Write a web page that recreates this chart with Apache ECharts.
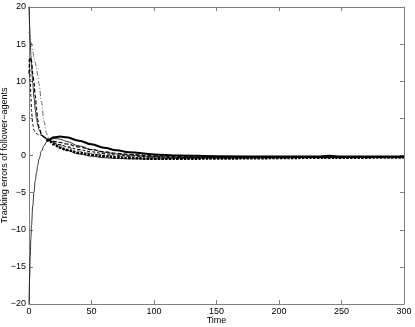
<!DOCTYPE html>
<html>
<head>
<meta charset="utf-8">
<script src="https://cdn.jsdelivr.net/npm/echarts@6/dist/echarts.min.js"></script>
<style>
  html, body { margin: 0; padding: 0; background: #fff; }
  #chart { width: 415px; height: 327px; }
</style>
</head>
<body>
<div id="chart"></div>
<script>
// sample times (shared by all curves)
const time = [0, 0.5, 1, 1.5, 2, 3, 4, 5, 6, 7, 8, 10, 12, 14, 16, 20, 25, 30, 40, 50, 60, 70, 80, 100, 120, 150, 200, 230, 240, 250, 300];

// tracking errors
const errThinHigh = [20, 17.5, 15.5, 13.5, 12, 9.8, 7.8, 6.2, 5, 4.1, 3.5, 2.8, 2.4, 2.2, 2.05, 1.6, 1.1, 0.7, 0.2, -0.1, -0.3, -0.4, -0.45, -0.45, -0.4, -0.35, -0.3, -0.25, -0.25, -0.25, -0.2];
const errThinLow = [-20, -16.5, -13.5, -11.2, -9.4, -6.8, -4.9, -3.4, -2.3, -1.3, -0.5, 0.6, 1.3, 1.8, 2.1, 2.3, 2.2, 1.9, 1.3, 0.8, 0.45, 0.2, 0.05, -0.15, -0.25, -0.3, -0.3, -0.25, -0.25, -0.25, -0.2];
const errDashDot = [16.6, 16.3, 16, 15.5, 15, 14, 13.2, 12.5, 11.8, 10.8, 9.6, 7.2, 4.6, 3.0, 2.3, 1.8, 1.4, 1.1, 0.6, 0.3, 0.1, -0.05, -0.15, -0.25, -0.3, -0.3, -0.25, -0.2, -0.2, -0.2, -0.2];
const errDashedA = [11, 12.5, 13.1, 13.2, 12.8, 11, 9.8, 8, 6.2, 4.8, 3.8, 2.9, 2.5, 2.3, 2.1, 1.9, 1.75, 1.55, 1.15, 0.8, 0.5, 0.3, 0.15, -0.05, -0.15, -0.2, -0.2, -0.2, -0.2, -0.2, -0.15];
const errDashedB = [13, 12, 10, 8, 6, 4.2, 3.4, 3.1, 2.95, 2.85, 2.8, 2.7, 2.5, 2.3, 2.1, 1.7, 1.45, 1.2, 0.8, 0.5, 0.25, 0.05, -0.05, -0.2, -0.25, -0.25, -0.25, -0.25, -0.25, -0.25, -0.2];
const errThick = [null, null, null, null, null, null, null, null, null, null, null, null, null, 2.0, 2.15, 2.45, 2.55, 2.45, 2.0, 1.5, 1.05, 0.7, 0.45, 0.15, 0, -0.1, -0.15, -0.15, -0.05, -0.13, -0.15];
const errDotted = [null, null, null, null, null, null, null, null, null, null, null, null, null, 2.1, 2.0, 1.5, 1.05, 0.75, 0.35, 0.1, -0.1, -0.25, -0.35, -0.45, -0.45, -0.4, -0.35, -0.3, -0.3, -0.3, -0.25];

const pairs = vals => time.map((t, i) => [t, vals[i]]);

const axisGray = '#7f7f7f';
const font = 'Liberation Sans, Helvetica, Arial, sans-serif';

const mkLine = (name, vals, width, type, color) => ({
  name: name,
  type: 'line',
  data: pairs(vals),
  showSymbol: false,
  smooth: 0.4,
  smoothMonotone: 'x',
  connectNulls: false,
  lineStyle: { width: width, type: type, color: color || '#000' },
  silent: true,
  animation: false
});

const chart = echarts.init(document.getElementById('chart'));
chart.setOption({
  animation: false,
  grid: { left: 29, right: 11, top: 7, bottom: 23, outerBoundsMode: 'none', containLabel: false },
  xAxis: [{
    type: 'value', min: 0, max: 300, interval: 50,
    name: 'Time', nameLocation: 'middle', nameGap: 12, nameMoveOverlap: false,
    nameTextStyle: { fontSize: 9, fontFamily: font, color: '#000' },
    axisLine: { onZero: false, lineStyle: { color: axisGray } },
    axisTick: { inside: true, length: 4, lineStyle: { color: axisGray } },
    axisLabel: { fontSize: 9, fontFamily: font, color: '#000', margin: 3 },
    splitLine: { show: false }
  }, {
    type: 'value', min: 0, max: 300, interval: 50, position: 'top',
    axisLine: { onZero: false, lineStyle: { color: axisGray } },
    axisTick: { inside: true, length: 4, lineStyle: { color: axisGray } },
    axisLabel: { show: false },
    splitLine: { show: false }
  }],
  yAxis: [{
    type: 'value', min: -20, max: 20, interval: 5,
    name: 'Tracking errors of follower\u2212agents', nameLocation: 'middle', nameGap: 20, nameMoveOverlap: false,
    nameTextStyle: { fontSize: 9, fontFamily: font, color: '#000' },
    axisLine: { onZero: false, lineStyle: { color: axisGray } },
    axisTick: { inside: true, length: 4, lineStyle: { color: axisGray } },
    axisLabel: { fontSize: 9, fontFamily: font, color: '#000', margin: 3,
      formatter: v => String(v).replace('-', '\u2212') },
    splitLine: { show: false }
  }, {
    type: 'value', min: -20, max: 20, interval: 5, position: 'right',
    axisLine: { show: true, onZero: false, lineStyle: { color: axisGray } },
    axisTick: { show: true, inside: true, length: 4, lineStyle: { color: axisGray } },
    axisLabel: { show: false },
    splitLine: { show: false }
  }],
  series: [
    mkLine('e1', errThinHigh, 0.8, 'solid'),
    mkLine('e2', errThinLow, 0.8, 'solid'),
    mkLine('e3', errDashDot, 0.8, [5, 2, 1, 2], '#444'),
    mkLine('e4', errDashedA, 1.2, [4, 2]),
    mkLine('e5', errDashedB, 1, [3, 2]),
    mkLine('e6', errThick, 2, 'solid'),
    mkLine('e7', errDotted, 2.5, [2.5, 1.2])
  ]
});
</script>
</body>
</html>
